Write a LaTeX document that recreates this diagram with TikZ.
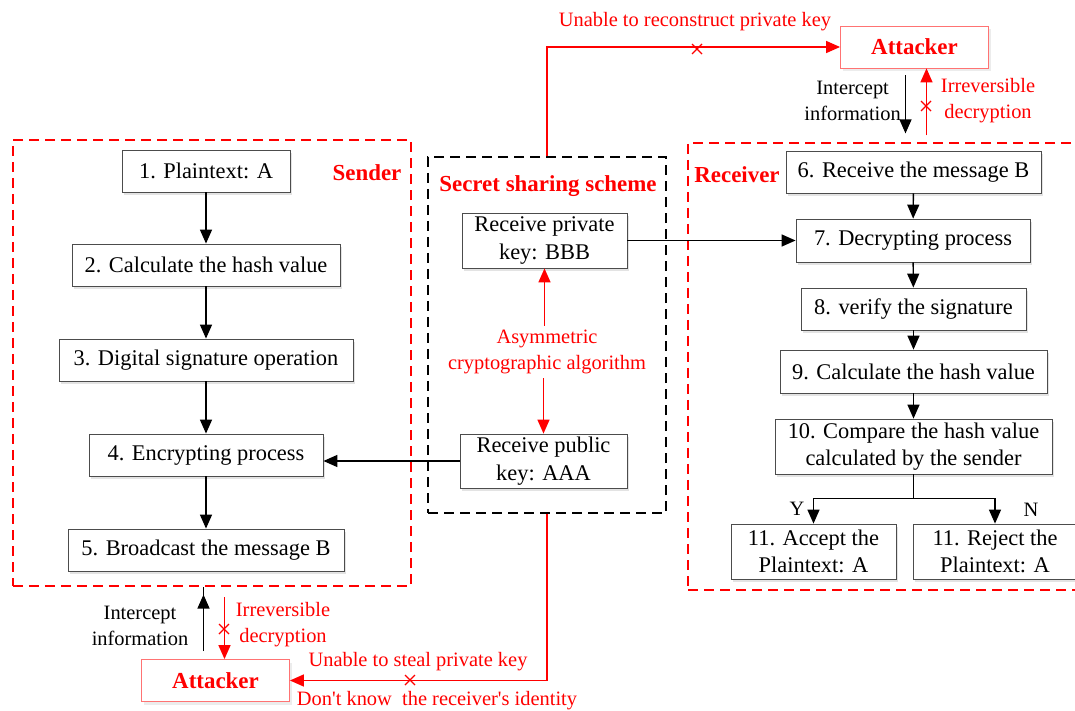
\documentclass[tikz,border=0pt]{standalone}
\usepackage{fontspec}
\setmainfont{Liberation Serif}
\usetikzlibrary{arrows.meta,shadows,calc}
\definecolor{alert}{RGB}{255,0,0}
\begin{document}
\begin{tikzpicture}[x=1bp,y=-1bp,
  font=\fontsize{22.5}{27.5}\selectfont,
  stepbox/.style={draw=black!70, fill=white, line width=0.8bp, inner sep=0pt,
    align=center, minimum height=42bp,
    drop shadow={opacity=0.22, shadow xshift=2bp, shadow yshift=-3bp}},
  attbox/.style={draw=alert!55, fill=white, line width=0.8bp, inner sep=0pt,
    minimum width=148bp, minimum height=42bp, text=alert,
    font=\fontsize{23}{26}\selectfont\bfseries,
    drop shadow={opacity=0.15, shadow xshift=2bp, shadow yshift=-3bp}},
  redframe/.style={draw=alert, line width=1.2bp, dash pattern=on 10bp off 6bp, inner sep=0pt},
  blackframe/.style={draw=black, line width=1.2bp, dash pattern=on 10bp off 6bp, inner sep=0pt},
  arr/.style={-{Triangle[length=14bp,width=12bp]}, line width=1.4bp, black},
  redarr/.style={-{Triangle[length=14bp,width=12bp]}, line width=1.4bp, alert},
  tag/.style={font=\fontsize{20.5}{26}\selectfont, align=center, inner sep=0pt},
  redtag/.style={tag, text=alert},
  title/.style={font=\fontsize{23}{26}\selectfont\bfseries, text=alert, inner sep=0pt},
  cross/.style={line width=1.2bp, alert}
]
\useasboundingbox (0,0) rectangle (1075,711);
\clip (0,0) rectangle (1075,711);

% containers
\node[redframe, minimum width=398bp, minimum height=446bp] (sender) at (212,363) {};
\node[blackframe, minimum width=238bp, minimum height=356bp] (secret) at (547,335) {};
\node[redframe, minimum width=400bp, minimum height=447bp] (receiver) at (888,366.5) {};

\node[title] (sendertitle) at (367,173) {Sender};
\node[title] (secrettitle) at (548,186) {Secret sharing scheme};
\node[title] (receivertitle) at (737,175) {Receiver};

% sender steps
\node[stepbox, minimum width=168bp] (s1) at (206,171) {1. Plaintext: A};
\node[stepbox, minimum width=268bp] (s2) at (206,265) {2. Calculate the hash value};
\node[stepbox, minimum width=294bp] (s3) at (206,360) {3. Digital signature operation};
\node[stepbox, minimum width=234bp] (s4) at (206,455) {4. Encrypting process};
\node[stepbox, minimum width=276bp] (s5) at (206,550) {5. Broadcast the message B};

\draw[arr] (s1) -- (s2);
\draw[arr] (s2) -- (s3);
\draw[arr] (s3) -- (s4);
\draw[arr] (s4) -- (s5);

% secret sharing scheme
\node[stepbox, minimum width=165bp, minimum height=55bp] (priv) at (544.5,240.5) {Receive private\\key: BBB};
\node[stepbox, minimum width=167bp, minimum height=54bp] (pub) at (543.5,461) {Receive public\\key: AAA};
\node[redtag] (asym) at (547,352) {Asymmetric\\cryptographic algorithm};
\draw[redarr] (asym.north -| priv.south) ++(0,-4) coordinate (asymtop) -- (priv.south);
\draw[redarr] (asym.south -| pub.north) ++(0,4) coordinate (asymbot) -- (pub.north);

% receiver steps
\node[stepbox, minimum width=255bp] (r6) at (913.5,172) {6. Receive the message B};
\node[stepbox, minimum width=234bp, minimum height=43bp] (r7) at (913,240.5) {7. Decrypting process};
\node[stepbox, minimum width=225bp] (r8) at (913.5,309) {8. verify the signature};
\node[stepbox, minimum width=267bp, minimum height=43bp] (r9) at (913.5,371.5) {9. Calculate the hash value};
\node[stepbox, minimum width=277bp, minimum height=55bp] (r10) at (913.5,446.5) {10. Compare the hash value\\calculated by the sender};
\node[stepbox, minimum width=165bp, minimum height=55bp] (acc) at (813.5,551.5) {11. Accept the\\Plaintext: A};
\node[stepbox, minimum width=164bp, minimum height=55bp] (rej) at (995,551.5) {11. Reject the\\Plaintext: A};

\draw[arr] (r6) -- (r7);
\draw[arr] (r7) -- (r8);
\draw[arr] (r8) -- (r9);
\draw[arr] (r9) -- (r10);
\coordinate (split) at ($(r10.south)+(0,24)$);
\draw[line width=1.4bp] (r10.south) -- (split);
\draw[arr] (split) -| (acc.north);
\draw[arr] (split) -| (rej.north);
\node[tag] (yes) at (797,509) {Y};
\node[tag] (no) at (1031,510) {N};

% key hand-over
\draw[arr] (priv.east) -- (priv.east -| r7.west);
\draw[arr] (pub.west) -- (pub.west -| s4.east);

% attackers
\node[attbox] (att1) at (914.5,47) {Attacker};
\node[attbox] (att2) at (215.5,680.5) {Attacker};

\draw[redarr] (secret.north) |- (att1.west);
\draw[cross] (692,44) -- (702,54) (692,54) -- (702,44);
\node[redtag] (lbl1) at (695,22) {Unable to reconstruct private key};

\draw[redarr] (secret.south) |- (att2.east);
\draw[cross] (405,675) -- (415,685) (405,685) -- (415,675);
\node[redtag] (lbl2) at (418,662) {Unable to steal private key};
\node[redtag] (lbl3) at (437,701) {Don\textquotesingle t know\ \ the receiver\textquotesingle s identity};

% interception at the receiver side
\coordinate (a1a) at ($(att1.south)+(-9,7)$);
\coordinate (a1b) at ($(att1.south)+(-9,65)$);
\coordinate (a1c) at ($(att1.south)+(12,67)$);
\draw[arr] (a1a) -- (a1b);
\draw[redarr] (a1c) -- (att1.south -| a1c);
\draw[cross] (921,101) -- (931,111) (921,111) -- (931,101);
\node[tag, anchor=east] (int1) at (901,101) {Intercept\\information};
\node[redtag] (irr1) at (988,101) {Irreversible\\decryption};

% interception at the sender side
\coordinate (a2a) at ($(att2.north)+(-12,-8)$);
\coordinate (a2c) at ($(att2.north)+(9,-62)$);
\draw[arr] (a2a) -- (a2a |- sender.south) ++(0,8);
\draw[redarr] (a2c) -- (att2.north -| a2c);
\draw[cross] (219,624) -- (229,634) (219,634) -- (229,624);
\node[tag] (int2) at (140,626) {Intercept\\information};
\node[redtag] (irr2) at (283,625) {Irreversible\\decryption};
\end{tikzpicture}
\end{document}
